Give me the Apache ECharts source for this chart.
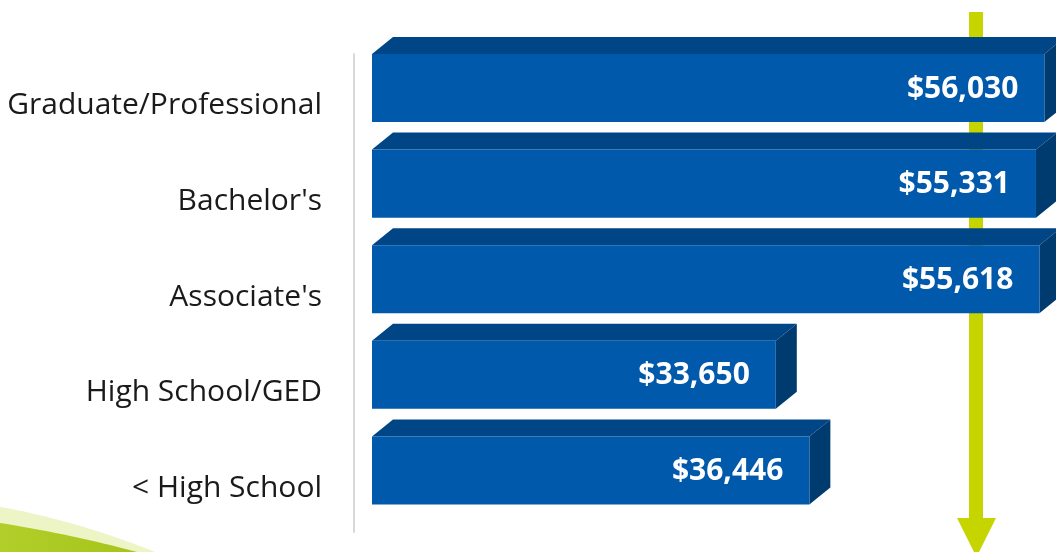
<!DOCTYPE html>
<html>
<head>
<meta charset="utf-8">
<script src="https://cdn.jsdelivr.net/npm/echarts@6/dist/echarts.min.js"></script>
<style>
html,body{margin:0;padding:0;background:#fff;}
#chart{width:1056px;height:552px;}
</style>
</head>
<body>
<div id="chart"></div>
<script>
var categories = ["Graduate/Professional", "Bachelor's", "Associate's", "High School/GED", "< High School"];
var values = [56030, 55331, 55618, 33650, 36446];
var valueLabels = ["$56,030", "$55,331", "$55,618", "$33,650", "$36,446"];

var FRONT = '#0059AA', TOP = '#004586', SIDE = '#003B70';
var GREEN = '#C6D500';

var chart = echarts.init(document.getElementById('chart'), null, {renderer: 'canvas'});

function renderItem(params, api) {
  var v = api.value(0), ci = api.value(1);
  var p0 = api.coord([0, ci]);
  var p1 = api.coord([v, ci]);
  var band = api.size([0, 1])[1];
  var top = p0[1] - band / 2;
  var h = band * 0.712;
  var dx = 21, dy = 17;
  var x0 = p0[0], x1 = p1[0];
  return {
    type: 'group',
    children: [
      {type: 'polygon', shape: {points: [[x0, top], [x0 + dx, top - dy], [x1 + dx, top - dy], [x1, top]]}, style: {fill: TOP}},
      {type: 'polygon', shape: {points: [[x1, top], [x1 + dx, top - dy], [x1 + dx, top + h - dy], [x1, top + h]]}, style: {fill: SIDE}},
      {type: 'rect', shape: {x: x0, y: top, width: x1 - x0, height: h}, style: {fill: FRONT}},
      {type: 'text', style: {text: valueLabels[params.dataIndex], x: x1 - 26, y: top + h / 2 + 1, align: 'right', verticalAlign: 'middle', fill: '#ffffff', fontFamily: '"Open Sans", sans-serif', fontWeight: 'bold', fontSize: 30}}
    ]
  };
}

function swoosh(ax, ay, cx, cy, bx, by) {
  var pts = [];
  for (var t = 0; t <= 1.0001; t += 0.05) {
    var u = 1 - t;
    pts.push([u * u * ax + 2 * u * t * cx + t * t * bx, u * u * ay + 2 * u * t * cy + t * t * by]);
  }
  pts.push([0, 552]);
  return pts;
}

var data = values.map(function (v, i) { return [v, i]; });

chart.setOption({
  animation: false,
  grid: {left: 354, right: 0, top: 54, bottom: 20, containLabel: false},
  xAxis: {type: 'value', min: -1500, max: 57000, show: false},
  yAxis: {
    type: 'category', data: categories, inverse: true,
    axisLine: {show: true, onZero: false, lineStyle: {color: '#D9D9D9', width: 2}},
    axisTick: {show: false},
    axisLabel: {
      margin: 32,
      formatter: function (v) { return '{a|' + v + '}'; },
      rich: {a: {color: '#1a1a1a', fontSize: 30, fontFamily: '"Open Sans", sans-serif', padding: [8, 0, 0, 0]}}
    }
  },
  graphic: [
    {type: 'rect', z: -10, shape: {x: 969, y: 12, width: 14, height: 508}, style: {fill: GREEN}},
    {type: 'polygon', z: -10, shape: {points: [[957, 518], [996, 518], [976.5, 557]]}, style: {fill: GREEN}},
    {type: 'polygon', z: -10, shape: {points: swoosh(0, 507, 75, 520, 155, 552)}, style: {fill: '#EDF4C6'}},
    {type: 'polygon', z: -10, shape: {points: swoosh(0, 523, 70, 534, 137, 552)}, style: {fill: {type: 'linear', x: 0, y: 0, x2: 1, y2: 0, colorStops: [{offset: 0, color: '#B2CE2A'}, {offset: 1, color: '#A6C41B'}]}}}
  ],
  series: [{
    type: 'custom',
    renderItem: renderItem,
    encode: {x: 0, y: 1},
    data: data,
    z: 5
  }]
});
</script>
</body>
</html>
